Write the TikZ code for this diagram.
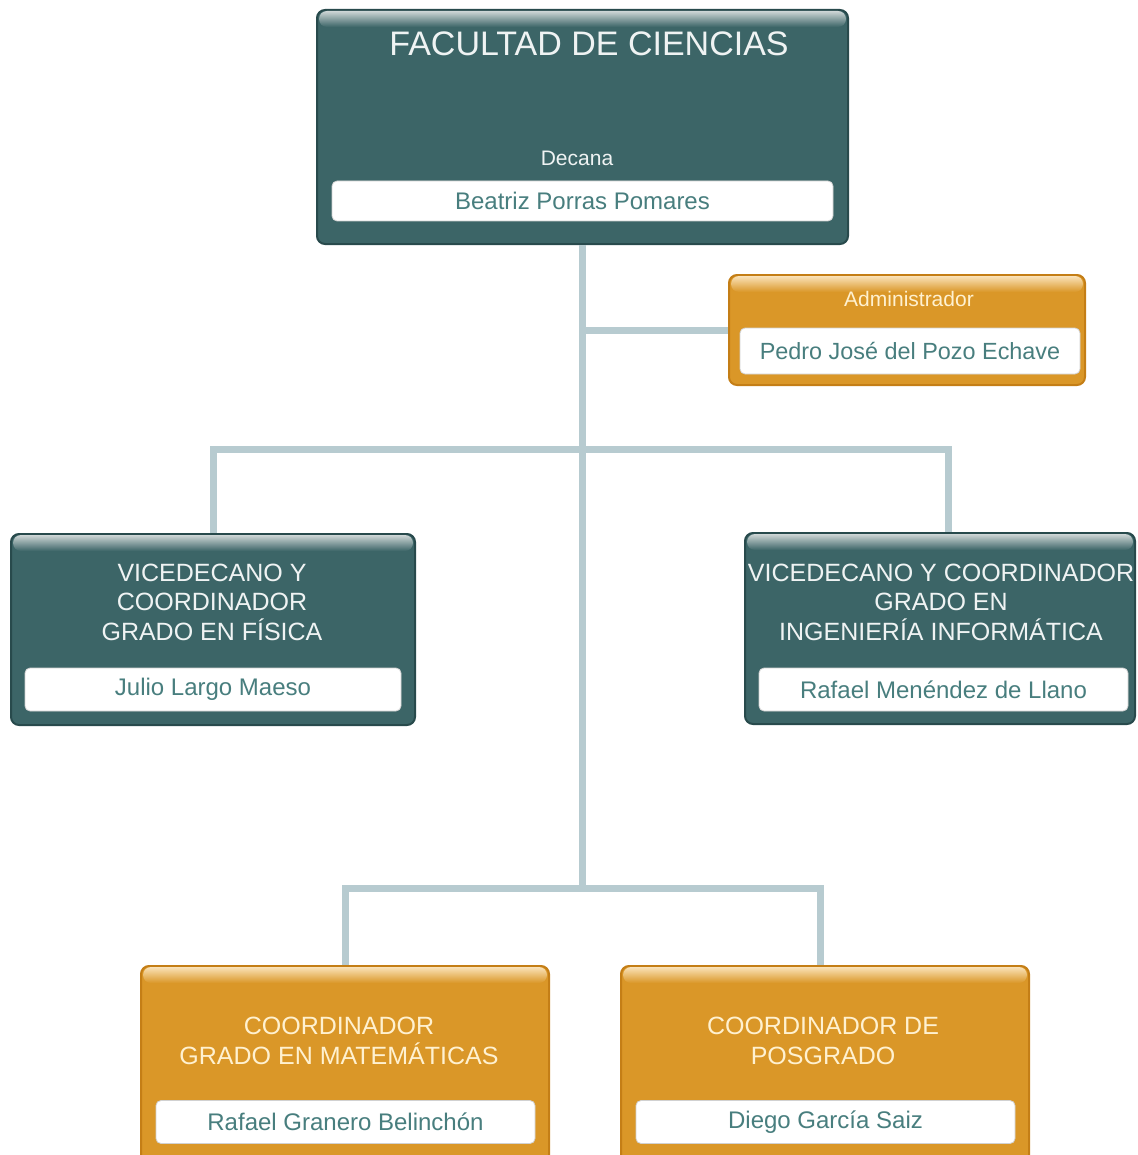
\documentclass[tikz,border=0pt]{standalone}
\usepackage{fontspec}
\setmainfont{Liberation Sans}
\usetikzlibrary{positioning,calc}

\definecolor{tealbg}{RGB}{60,101,103}
\definecolor{tealedge}{RGB}{40,74,76}
\definecolor{orangebg}{RGB}{218,151,40}
\definecolor{orangeedge}{RGB}{196,126,22}
\definecolor{linkgray}{RGB}{183,203,208}
\definecolor{nametxt}{RGB}{72,126,126}
\definecolor{creamtxt}{RGB}{255,241,208}
\definecolor{glossteal}{RGB}{206,214,214}
\definecolor{glossorange}{RGB}{250,226,184}

\tikzset{
  tealbox/.style={draw=tealedge, fill=tealbg, line width=1pt, rounded corners=4pt, inner sep=0pt},
  orangebox/.style={draw=orangeedge, fill=orangebg, line width=1pt, rounded corners=4pt, inner sep=0pt},
  namebox/.style={draw=black!18, fill=white, rounded corners=2.5pt, inner sep=0pt,
    text=nametxt, font=\fontsize{12}{14}\selectfont},
  tealtitle/.style={text=white!92!tealbg, align=center, font=\fontsize{12.5}{14.75}\selectfont},
  orangetitle/.style={text=creamtxt, align=center, font=\fontsize{12.5}{15}\selectfont},
  tealgloss/.style={top color=glossteal, bottom color=tealbg, rounded corners=4pt},
  orangegloss/.style={top color=glossorange, bottom color=orangebg, rounded corners=4pt},
  link/.style={draw=linkgray, line width=3.5pt}
}

\begin{document}
\begin{tikzpicture}[x=0.5pt,y=-0.5pt]
\useasboundingbox (0,0) rectangle (1137,1155);

% boxes
\node[tealbox, minimum width=265.5pt, minimum height=117pt] (dean) at (582.5,127) {};
\node[orangebox, minimum width=178pt, minimum height=55pt] (adm) at (907,330) {};
\node[tealbox, minimum width=202pt, minimum height=95.5pt] (fis) at (213,629.5) {};
\node[tealbox, minimum width=195pt, minimum height=95.5pt] (inf) at (940,628.5) {};
\node[orangebox, minimum width=204pt, minimum height=99.5pt] (mat) at (345,1065.5) {};
\node[orangebox, minimum width=204pt, minimum height=99.5pt] (pos) at (825,1065.5) {};

% glossy top bands
\shade[tealgloss] ([xshift=1.5pt,yshift=-1pt]dean.north west) rectangle ([xshift=-1.5pt,yshift=-9pt]dean.north east);
\shade[orangegloss] ([xshift=1.5pt,yshift=-1pt]adm.north west) rectangle ([xshift=-1.5pt,yshift=-9pt]adm.north east);
\shade[tealgloss] ([xshift=1.5pt,yshift=-1pt]fis.north west) rectangle ([xshift=-1.5pt,yshift=-9pt]fis.north east);
\shade[tealgloss] ([xshift=1.5pt,yshift=-1pt]inf.north west) rectangle ([xshift=-1.5pt,yshift=-9pt]inf.north east);
\shade[orangegloss] ([xshift=1.5pt,yshift=-1pt]mat.north west) rectangle ([xshift=-1.5pt,yshift=-9pt]mat.north east);
\shade[orangegloss] ([xshift=1.5pt,yshift=-1pt]pos.north west) rectangle ([xshift=-1.5pt,yshift=-9pt]pos.north east);

% titles
\node[text=white!92!tealbg, font=\fontsize{17}{20}\selectfont] (deantitle) at (589,44) {FACULTAD DE CIENCIAS};
\node[text=white!92!tealbg, font=\fontsize{10.5}{12}\selectfont] (deanrole) at (577,158) {Decana};
\node[text=creamtxt, font=\fontsize{10.5}{12}\selectfont] (admrole) at (909,299) {Administrador};
\node[tealtitle] (fistitle) at (212,602) {VICEDECANO Y\\COORDINADOR\\GRADO EN FÍSICA};
\node[tealtitle] (inftitle) at (941,602) {VICEDECANO Y COORDINADOR\\GRADO EN\\INGENIERÍA INFORMÁTICA};
\node[orangetitle] (mattitle) at (339,1041) {COORDINADOR\\GRADO EN MATEMÁTICAS};
\node[orangetitle] (postitle) at (823,1041) {COORDINADOR DE\\POSGRADO};

% names
\node[namebox, minimum width=250.5pt, minimum height=20pt] (deanname) at (582.5,201) {Beatriz Porras Pomares};
\node[namebox, minimum width=170pt, minimum height=23pt, font=\fontsize{11.7}{14}\selectfont] (admname) at (910,351) {Pedro José del Pozo Echave};
\node[namebox, minimum width=188pt, minimum height=21.5pt] (fisname) at (213,689.5) {Julio Largo Maeso};
\node[namebox, minimum width=184.5pt, minimum height=21.5pt] (infname) at (943.5,689.5) {Rafael Menéndez de Llano};
\node[namebox, minimum width=189.5pt, minimum height=21.5pt] (matname) at (345.5,1122) {Rafael Granero Belinchón};
\node[namebox, minimum width=189.5pt, minimum height=21.5pt] (posname) at (825.5,1122) {Diego García Saiz};

% connectors
\coordinate (jv) at (583,449);
\coordinate (jb) at (583,888);
\draw[link] (dean.south) -- (dean.south |- jb);
\draw[link] (dean.south |- adm.west) -- (adm.west);
\draw[link] (fis.north) |- (jv) -| ([xshift=4pt]inf.north);
\draw[link] (mat.north) |- (jb) -| ([xshift=-2.5pt]pos.north);
\end{tikzpicture}
\end{document}
